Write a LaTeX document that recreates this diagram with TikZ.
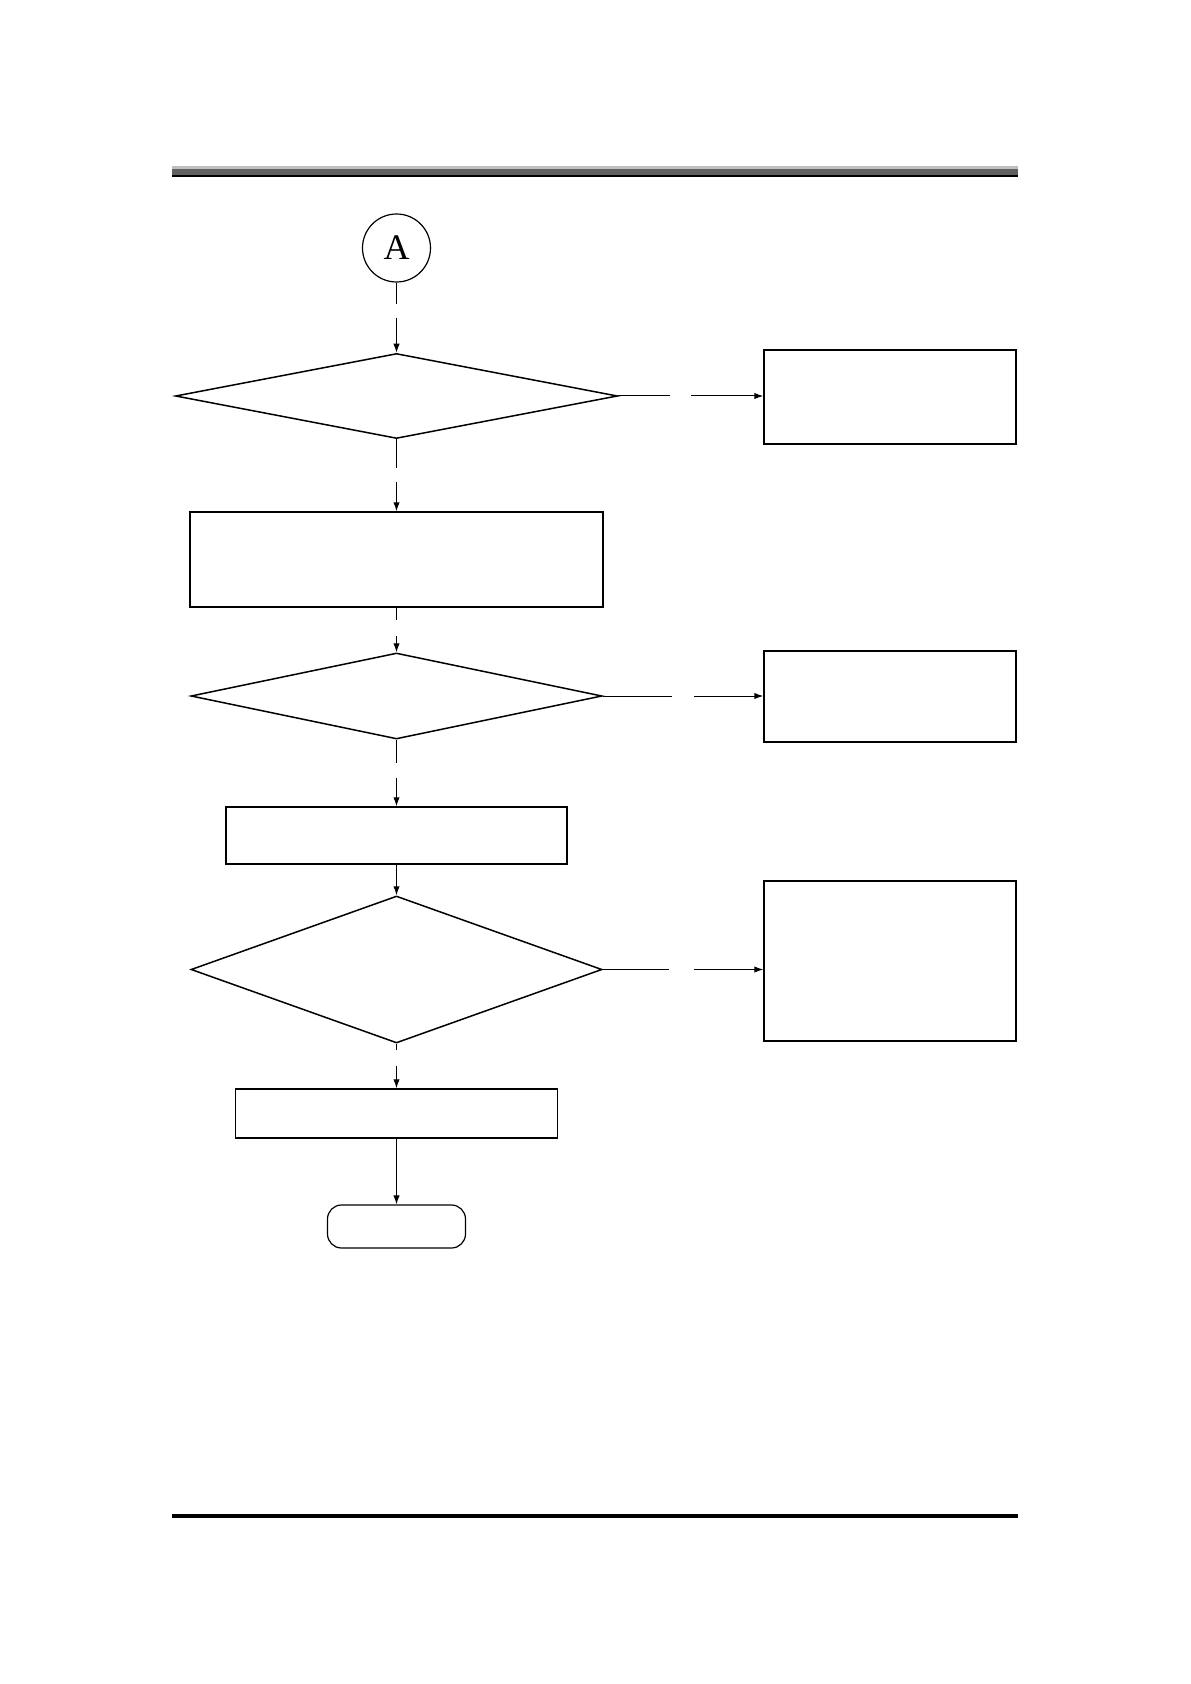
\documentclass[tikz,border=0pt]{standalone}
\usepackage{fontspec}
\usepackage{tikz}
\usetikzlibrary{shapes.geometric, arrows.meta}
\newfontfamily\labelfont{Liberation Serif}

\begin{document}
\begin{tikzpicture}[x=0.5pt, y=-0.5pt,
    box/.style={draw, rectangle, line width=0.75pt, inner sep=0pt},
    decision/.style={draw, diamond, line width=0.75pt, inner sep=0pt},
    flow/.style={line width=0.5pt, -{Latex[length=4.5pt,width=3.2pt]}}]
    \useasboundingbox (0,0) rectangle (1190,1684);

    % page rules
    \fill[black!25] (172,166) rectangle (1018,169);
    \fill[black!62] (172,169) rectangle (1018,175);
    \fill[black] (172,175) rectangle (1018,177);
    \fill[black] (172,1514) rectangle (1018,1517.5);

    % main column
    \node[draw, circle, line width=0.6pt, minimum size=34pt, inner sep=0pt,
        font=\labelfont\fontsize{18}{20}\selectfont] (conA) at (396.5,248) {A};
    \node[decision, minimum width=221pt, minimum height=42.5pt] (chk1) at (396.5,396) {};
    \node[box, minimum width=206.5pt, minimum height=47.5pt] (step1) at (396.5,559.5) {};
    \node[decision, minimum width=205.5pt, minimum height=43pt] (chk2) at (396.5,696) {};
    \node[box, minimum width=170.5pt, minimum height=28.5pt] (step2) at (396.5,835.5) {};
    \node[decision, minimum width=205.5pt, minimum height=73.5pt] (chk3) at (396.5,969.5) {};
    \node[box, minimum width=161pt, minimum height=24.5pt] (step3) at (396.5,1113.5) {};
    \node[draw, rectangle, rounded corners=7pt, line width=0.6pt,
        minimum width=69pt, minimum height=21.5pt] (finish) at (396.5,1226.5) {};

    % side boxes
    \node[box, minimum width=126pt, minimum height=47pt] (err1) at (890,397) {};
    \node[box, minimum width=126pt, minimum height=45.5pt] (err2) at (890,696.5) {};
    \node[box, minimum width=126pt, minimum height=80pt] (err3) at (890,961) {};

    % connectors
    \draw[flow, dash pattern=on 10.5pt off 7pt on 60pt] (conA) -- (chk1);
    \draw[flow, dash pattern=on 14.5pt off 7pt on 60pt] (chk1) -- (step1);
    \draw[flow, dash pattern=on 6pt off 8pt on 60pt] (step1) -- (chk2);
    \draw[flow, dash pattern=on 11.5pt off 7.5pt on 60pt] (chk2) -- (step2);
    \draw[flow] (step2) -- (chk3);
    \draw[flow, dash pattern=on 3pt off 8pt on 60pt] (chk3) -- (step3);
    \draw[flow] (step3) -- (finish);

    \draw[flow, dash pattern=on 26pt off 10.5pt on 80pt] (chk1.east) -- (chk1.east -| err1.west);
    \draw[flow, dash pattern=on 34.5pt off 11pt on 80pt] (chk2.east) -- (chk2.east -| err2.west);
    \draw[flow, dash pattern=on 33pt off 12.5pt on 80pt] (chk3.east) -- (chk3.east -| err3.west);
\end{tikzpicture}
\end{document}
